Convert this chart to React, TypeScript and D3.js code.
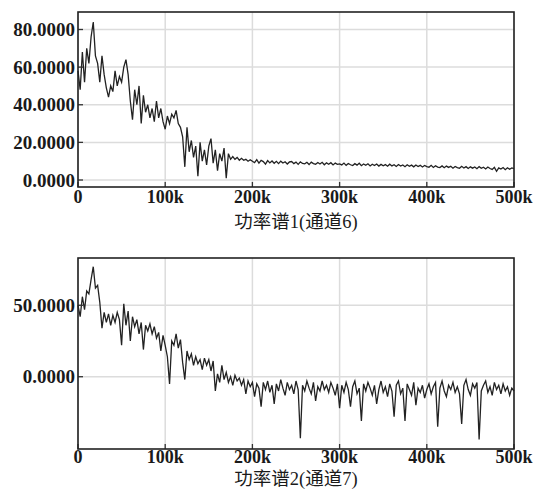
import React from "react";
import * as d3 from "d3";

const freqStep = 2500;
const xTicks = [0, 100000, 200000, 300000, 400000, 500000];
const xTickLabels = ["0", "100k", "200k", "300k", "400k", "500k"];

const topTicks = [0, 20, 40, 60, 80];
const topTickLabels = ["0.0000", "20.0000", "40.0000", "60.0000", "80.0000"];
const bottomTicks = [0, 50];
const bottomTickLabels = ["0.0000", "50.0000"];

const titleTop = "功率谱1(通道6)";
const titleBottom = "功率谱2(通道7)";

// channel 6 power spectrum, one value every 2.5 kHz
const spectrum1 = [
  58, 48, 68, 52, 70, 62, 76, 84, 66, 62, 52, 66, 56, 49, 44, 50, 47, 58, 50, 55,
  52, 60, 64, 56, 42, 32, 48, 40, 50, 30, 45, 36, 40, 33, 38, 31, 42, 33, 38, 31,
  27, 34, 30, 35, 33, 37, 30, 28, 23, 7, 28, 15, 21, 12, 18, 2, 20, 10, 16, 8,
  18, 22, 9, 16, 5, 14, 10, 17, 1, 14, 11, 12.5, 11, 12, 10.5, 11.5, 10.5, 11, 10, 10.8,
  10, 9.2, 10.8, 9.0, 10.4, 9.8, 8.4, 10.3, 9.1, 10.1, 8.9, 9.9, 8.7, 10.0, 9.0, 9.7, 8.5, 9.6, 9.8, 8.7,
  9.5, 8.3, 9.6, 8.8, 8.6, 9.4, 8.2, 9.5, 8.7, 8.4, 9.3, 8.5, 9.4, 8.1, 9.1, 8.4, 9.2, 8.0, 9.0, 8.3,
  8.6, 8.0, 9.0, 7.8, 8.8, 8.1, 7.7, 8.7, 7.9, 8.9, 7.6, 8.5, 7.8, 8.6, 7.5, 8.4, 7.7, 8.5, 7.4, 8.3,
  7.6, 8.2, 7.3, 8.4, 7.5, 8.1, 7.2, 8.2, 7.4, 8.0, 7.1, 8.1, 7.3, 7.9, 7.0, 8.0, 7.2, 7.8, 6.9, 7.7,
  7.1, 6.8, 7.8, 6.7, 7.6, 6.9, 6.6, 7.5, 6.5, 7.4, 6.7, 7.3, 6.3, 7.2, 6.6, 6.2, 7.3, 6.4, 7.1, 6.1,
  7.0, 6.3, 6.9, 6.0, 7.1, 6.2, 6.8, 5.9, 6.9, 6.1, 5.6, 6.7, 4.6, 6.4, 5.8, 6.6, 5.5, 6.5, 5.7, 6.4,
  6.0,
];

// channel 7 power spectrum, one value every 2.5 kHz
const spectrum2 = [
  50, 42, 56, 47, 60, 58, 68, 77, 62, 64, 52, 34, 45, 38, 44, 36, 43, 38, 45, 40,
  22, 51, 36, 46, 25, 42, 35, 40, 30, 38, 19, 36, 32, 37, 30, 35, 27, 31, 18, 29,
  22, 14, -5, 25, 22, 30, 20, 26, 10, -2, 18, 12, 16, 8, 14, 9, 12, 5, 13, 8,
  12, 4, 11, -10, 2, -4, 8, -2, 3, -4, 0, -6, 1, -3, -1, -6, -2, -12, -3, -7,
  -4, -14, -5, -8, -21, -4, -9, -3, -11, -6, -19, -5, -10, -2, -8, -13, -4, -9, -6, -12,
  -3, -9, -43, -6, -10, -3, -8, -12, -4, -17, -7, -10, -3, -9, -6, -11, -4, -8, -13, -5,
  -22, -6, -11, -4, -9, -21, -7, -3, -12, -8, -31, -5, -10, -4, -8, -13, -6, -19, -9, -3,
  -11, -7, -14, -5, -10, -28, -6, -3, -12, -8, -31, -5, -9, -13, -4, -20, -8, -11, -6, -15,
  -9, -5, -12, -7, -4, -35, -8, -3, -10, -14, -6, -9, -4, -11, -7, -12, -33, -6, -2, -9,
  -13, -5, -8, -4, -44, -10, -6, -3, -11, -7, -13, -4, -9, -6, -12, -5, -10, -7, -13, -8,
  -10,
];

const W = 540;
const H = 490;
const serif = "'Liberation Serif', 'Times New Roman', serif";
const cjk = "'Liberation Serif', 'Noto Sans CJK SC', serif";

type PanelProps = {
  values: number[];
  top: number;
  bottom: number;
  domain: [number, number];
  ticks: number[];
  tickLabels: string[];
  title: string;
  titleOffset: number;
  labelOffset: number;
};

function Panel({ values, top, bottom, domain, ticks, tickLabels, title, titleOffset, labelOffset }: PanelProps) {
  const left = 78;
  const right = 514;
  const x = d3.scaleLinear().domain([0, 500000]).range([left, right]);
  const y = d3.scaleLinear().domain(domain).range([bottom, top]);
  const line = d3
    .line<number>()
    .x((_, i) => x(i * freqStep))
    .y((d) => y(d));
  return (
    <g>
      {xTicks.map((t) => (
        <line key={"gx" + t} x1={x(t)} x2={x(t)} y1={top} y2={bottom} stroke="#dcdcdc" strokeWidth={1.5} />
      ))}
      {ticks.map((t) => (
        <line key={"gy" + t} x1={left} x2={right} y1={y(t)} y2={y(t)} stroke="#dcdcdc" strokeWidth={1.5} />
      ))}
      <path d={line(values) || ""} fill="none" stroke="#222" strokeWidth={1.3} strokeLinejoin="miter" />
      {xTicks.map((t) => (
        <line key={"tx" + t} x1={x(t)} x2={x(t)} y1={bottom} y2={bottom - 5} stroke="#333" strokeWidth={1.3} />
      ))}
      {ticks.map((t) => (
        <line key={"ty" + t} x1={left} x2={left + 5} y1={y(t)} y2={y(t)} stroke="#333" strokeWidth={1.3} />
      ))}
      <rect x={left} y={top} width={right - left} height={bottom - top} fill="none" stroke="#222" strokeWidth={1.6} />
      {ticks.map((t, i) => (
        <text
          key={"ly" + t}
          x={left - 3}
          y={y(t)}
          dy="0.35em"
          textAnchor="end"
          fontFamily={serif}
          fontWeight="bold"
          fontSize={19}
          fill="#1a1a1a"
        >
          {tickLabels[i]}
        </text>
      ))}
      {xTicks.map((t, i) => (
        <text
          key={"lx" + t}
          x={x(t)}
          y={bottom + labelOffset}
          textAnchor="middle"
          fontFamily={serif}
          fontWeight="bold"
          fontSize={18}
          fill="#1a1a1a"
        >
          {xTickLabels[i]}
        </text>
      ))}
      <text
        x={(left + right) / 2}
        y={bottom + titleOffset}
        textAnchor="middle"
        fontFamily={cjk}
        fontSize={18.5}
        fill="#1a1a1a"
      >
        {title}
      </text>
    </g>
  );
}

export default function App() {
  return (
    <svg
      width={W}
      height={H}
      style={{ position: "absolute", left: 0, top: 0, background: "#fff" }}
    >
      <rect width={W} height={H} fill="#fff" />
      <Panel
        values={spectrum1}
        top={12}
        bottom={187}
        domain={[-3.72, 89.3]}
        ticks={topTicks}
        tickLabels={topTickLabels}
        title={titleTop}
        titleOffset={41}
        labelOffset={16}
      />
      <Panel
        values={spectrum2}
        top={258}
        bottom={449}
        domain={[-50.6, 83.1]}
        ticks={bottomTicks}
        tickLabels={bottomTickLabels}
        title={titleBottom}
        titleOffset={36}
        labelOffset={14}
      />
    </svg>
  );
}
